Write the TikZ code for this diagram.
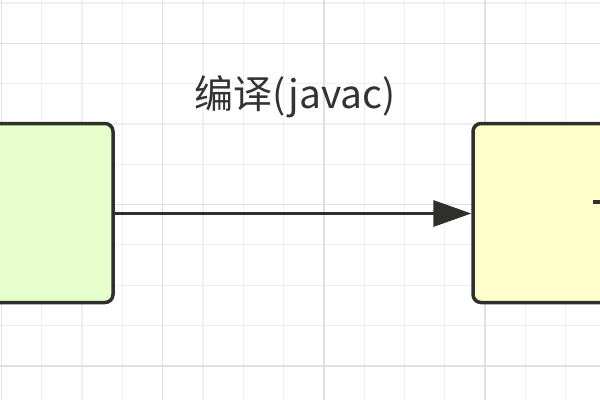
\documentclass[tikz,border=0pt]{standalone}
\usepackage{fontspec}
\newfontfamily\cjk{Noto Sans CJK SC}
\usetikzlibrary{arrows.meta}
\definecolor{gridminor}{HTML}{EFEFEF}
\definecolor{gridmajor}{HTML}{E0E0E0}
\definecolor{edge}{HTML}{2F302C}
\definecolor{greenfill}{HTML}{E6FFCC}
\definecolor{yellowfill}{HTML}{FFFFCC}
\definecolor{txt}{HTML}{333333}
\tikzset{
  boxstyle/.style={draw=edge, line width=3.5pt, rounded corners=8pt},
  conn/.style={draw=edge, line width=3.2pt, -{Triangle[length=38pt,width=26pt]}},
  lbl/.style={text=txt, font=\cjk\fontsize{39}{42}\selectfont, inner sep=0pt},
  minorline/.style={draw=gridminor, line width=1.2pt},
  majorline/.style={draw=gridmajor, line width=1.6pt}
}
\begin{document}
\begin{tikzpicture}[x=1pt,y=-1pt]
\useasboundingbox (0,0) rectangle (600,400);
\clip (0,0) rectangle (600,400);
\fill[white] (0,0) rectangle (600,400);
% grid
\foreach \i in {0,...,14} {
  \pgfmathsetmacro{\xx}{1.4+40.3*\i}
  \draw[minorline] (\xx,0) -- (\xx,400);
}
\foreach \i in {0,...,9} {
  \pgfmathsetmacro{\yy}{3.0+40.3*\i}
  \draw[minorline] (0,\yy) -- (600,\yy);
}
\foreach \xx in {1.4,162.6,323.8,485} {
  \draw[majorline] (\xx,0) -- (\xx,400);
}
\foreach \yy in {43.3,204.5,365.7} {
  \draw[majorline] (0,\yy) -- (600,\yy);
}
% boxes
\path[boxstyle, fill=greenfill] (-200,123.5) rectangle (113,302.5);
\coordinate (leftE) at (113,213.5);
\path[boxstyle, fill=yellowfill] (473,123.5) rectangle (800,302.5);
\coordinate (rightW) at (473,213.5);
% clipped mark inside right box
\fill[edge] (593,200) rectangle (601,203.5);
% connector
\draw[conn] ([xshift=1.7pt]leftE) -- ([xshift=-1.7pt]rightW);
% label
\node[lbl] (label) at (295,97) {编译(javac)};
\end{tikzpicture}
\end{document}
